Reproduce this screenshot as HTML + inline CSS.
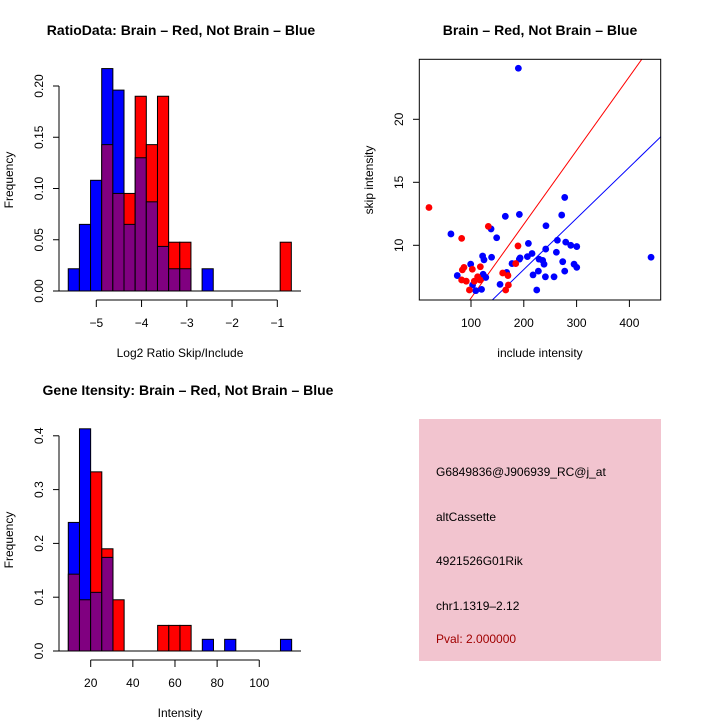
<!DOCTYPE html>
<html><head><meta charset="utf-8"><style>
html,body{margin:0;padding:0;background:#fff}
svg{display:block}
text{font-family:"Liberation Sans",sans-serif;fill:#000}
</style></head><body>
<svg id="chart" width="720" height="720" viewBox="0 0 720 720" xmlns="http://www.w3.org/2000/svg">
<text x="181" y="35" text-anchor="middle" font-size="14" font-weight="bold">RatioData: Brain – Red, Not Brain – Blue</text>
<text x="540" y="35" text-anchor="middle" font-size="14" font-weight="bold">Brain – Red, Not Brain – Blue</text>
<text x="188" y="395" text-anchor="middle" font-size="14" font-weight="bold">Gene Itensity: Brain – Red, Not Brain – Blue</text>
<text x="180" y="357" text-anchor="middle" font-size="12">Log2 Ratio Skip/Include</text>
<text transform="translate(13,180) rotate(-90)" text-anchor="middle" font-size="12">Frequency</text>
<text x="540" y="357" text-anchor="middle" font-size="12">include intensity</text>
<text transform="translate(373,180) rotate(-90)" text-anchor="middle" font-size="12">skip intensity</text>
<text x="180" y="717" text-anchor="middle" font-size="12">Intensity</text>
<text transform="translate(13,540) rotate(-90)" text-anchor="middle" font-size="12">Frequency</text>
<g>
<rect x="419" y="419" width="242" height="242" fill="#f2c4cf"/>
<text x="436" y="476" font-size="12">G6849836@J906939_RC@j_at</text>
<text x="436" y="521" font-size="12">altCassette</text>
<text x="436" y="565" font-size="12">4921526G01Rik</text>
<text x="436" y="610" font-size="12">chr1.1319–2.12</text>
<text x="436" y="643" font-size="12" style="fill:#a00000">Pval: 2.000000</text>
</g>
</svg>
<script>
// Ratio histogram data
const ratioBinStart = -5.62;
const ratioBinWidth = 0.2465;
const ratioBlue = [0.0217,0.065,0.108,0.217,0.196,0.065,0.13,0.087,0.0435,0.0217,0.0217,0,0.0217,0,0,0,0,0,0,0];
const ratioRed  = [0,0,0,0.1428,0.0952,0.0952,0.19,0.1428,0.19,0.0476,0.0476,0,0,0,0,0,0,0,0,0.0476];
const ratioYTicks = [0,0.05,0.10,0.15,0.20];
const ratioYLabels = ["0.00","0.05","0.10","0.15","0.20"];
const ratioXTicks = [-5,-4,-3,-2,-1];
const ratioXLabels = ["\u22125","\u22124","\u22123","\u22122","\u22121"];
// Intensity histogram data
const intBinStart = 9.37;
const intBinWidth = 5.3;
const intBlue = [0.239,0.413,0.109,0.174,0,0,0,0,0,0,0,0,0.0217,0,0.0217,0,0,0,0,0.0217];
const intRed  = [0.1428,0.0952,0.333,0.19,0.0952,0,0,0,0.0476,0.0476,0.0476,0,0,0,0,0,0,0,0,0];
const intYTicks = [0,0.1,0.2,0.3,0.4];
const intYLabels = ["0.0","0.1","0.2","0.3","0.4"];
const intXTicks = [20,40,60,80,100];
const intXLabels = ["20","40","60","80","100"];
// Scatter data
const blueX = [189.7,62,74,99.4,103,109,120,122,124.6,123,128,138,139,148.6,155,165,167.6,177.7,191.6,191.6,193,206.8,208.7,215.6,217.5,224.5,227.6,228.9,235.8,238.3,241.5,242,240.9,257.3,261.7,263.6,271.8,273.7,277.5,277.5,279.4,288.9,295.2,300.3,300.3,441];
const blueY = [24.05,10.9,7.6,8.5,6.85,6.4,6.5,9.15,8.85,7.7,7.45,11.3,9.05,10.6,6.9,12.3,7.85,8.55,12.45,8.9,9.0,9.1,10.15,9.35,7.65,6.45,7.95,8.9,8.8,8.5,9.7,11.55,7.5,7.5,9.45,10.4,12.4,8.7,13.8,7.95,10.25,10.0,8.5,9.9,8.25,9.05];
const redX = [20.4,82.3,83.6,86.7,82.3,91,97,102.5,106.3,112.6,117,117.7,132.8,160,165.7,170,170.8,184.7,189];
const redY = [13.0,10.55,8.05,8.25,7.25,7.15,6.45,8.1,7.15,7.5,7.25,8.3,11.5,7.8,6.45,7.6,6.85,8.55,9.95];
const redSlope = 0.0586, redIntercept = -0.05;
const blueSlope = 0.0406, blueIntercept = -0.04;
const scXTicks = [100,200,300,400];
const scXLabels = ["100","200","300","400"];
const scYTicks = [10,15,20];
const scYLabels = ["10","15","20"];

const svg = document.getElementById('chart');
const NS = 'http://www.w3.org/2000/svg';
function mk(tag, attrs, parent){
  const e = document.createElementNS(NS, tag);
  for (const k in attrs) e.setAttribute(k, attrs[k]);
  (parent||svg).appendChild(e);
  return e;
}
function txt(x,y,s,anchor,rot,parent){
  const t = mk('text',{x:x,y:y,'font-size':12,'text-anchor':anchor||'middle'},parent);
  if (rot) t.setAttribute('transform','rotate(-90 '+x+' '+y+')');
  t.textContent = s;
  return t;
}

function histogram(name, top, binStart, binW, blue, red, yt, yl, xt, xl, xScale, yScale){
  const g = mk('g',{});
  
  
  const y0 = yScale(0);
  for (let i=0;i<blue.length;i++){
    const x1 = xScale(binStart + i*binW), x2 = xScale(binStart + (i+1)*binW);
    const b = blue[i], r = red[i];
    const mx = Math.max(b,r), mn = Math.min(b,r);
    if (mx>0){
      const rc = mk('rect',{x:x1,y:yScale(mx),width:x2-x1,height:y0-yScale(mx),fill:b>=r?'#0000ff':'#ff0000',stroke:'#000','stroke-width':1},g);
      
      
    }
    if (mn>0){
      const pc = mk('rect',{x:x1,y:yScale(mn),width:x2-x1,height:y0-yScale(mn),fill:'#800080',stroke:'#000','stroke-width':1},g);
      
      
    }
  }
  // baseline
  mk('line',{x1:59,y1:y0,x2:301,y2:y0,stroke:'#000','stroke-width':1},g);
  // y axis
  const ya = mk('g',{},g);
  
  
  mk('line',{x1:59,y1:yScale(yt[0]),x2:59,y2:yScale(yt[yt.length-1]),stroke:'#000'},ya);
  yt.forEach((v,i)=>{
    mk('line',{x1:53,y1:yScale(v),x2:59,y2:yScale(v),stroke:'#000'},ya);
    txt(43,yScale(v),yl[i],'middle',true,ya);
  });
  // x axis
  const xa = mk('g',{},g);
  
  
  const ax = y0+9;
  mk('line',{x1:xScale(xt[0]),y1:ax,x2:xScale(xt[xt.length-1]),y2:ax,stroke:'#000'},xa);
  xt.forEach((v,i)=>{
    mk('line',{x1:xScale(v),y1:ax,x2:xScale(v),y2:ax+7,stroke:'#000'},xa);
    txt(xScale(v),ax+27,xl[i],'middle',false,xa);
  });
}

// ratio histogram scales
const rX = v => 96.3 + (v+5)*45.25;
const rY = v => 291 - v*1025;
histogram('ratio-histogram',0,ratioBinStart,ratioBinWidth,ratioBlue,ratioRed,ratioYTicks,ratioYLabels,ratioXTicks,ratioXLabels,rX,rY);

const iX = v => 90.7 + (v-20)*2.107;
const iY = v => 651 - v*538;
histogram('intensity-histogram',0,intBinStart,intBinWidth,intBlue,intRed,intYTicks,intYLabels,intXTicks,intXLabels,iX,iY);

// scatter
const sX = v => 471 + (v-100)*0.528;
const sY = v => 245.3 - (v-10)*12.6;
const sg = mk('g',{});


const defs = mk('defs',{},sg);
const cp = mk('clipPath',{id:'scclip'},defs);
mk('rect',{x:419.3,y:59.3,width:241.4,height:240.7},cp);
const lines = mk('g',{'clip-path':'url(#scclip)'},sg);
const xmin = 0, xmax = 470;
const rl = mk('line',{x1:sX(xmin),y1:sY(redSlope*xmin+redIntercept),x2:sX(xmax),y2:sY(redSlope*xmax+redIntercept),stroke:'#ff0000','stroke-width':1},lines);


const bl = mk('line',{x1:sX(xmin),y1:sY(blueSlope*xmin+blueIntercept),x2:sX(xmax),y2:sY(blueSlope*xmax+blueIntercept),stroke:'#0000ff','stroke-width':1},lines);


blueX.forEach((x,i)=>{
  const c = mk('circle',{cx:sX(x),cy:sY(blueY[i]),r:3.4,fill:'#0000ff'},sg);
  
  
});
redX.forEach((x,i)=>{
  const c = mk('circle',{cx:sX(x),cy:sY(redY[i]),r:3.4,fill:'#ff0000'},sg);
  
  
});
const box = mk('rect',{x:419.3,y:59.3,width:241.4,height:240.7,fill:'none',stroke:'#000'},sg);


const sxa = mk('g',{},sg);


scXTicks.forEach((v,i)=>{
  mk('line',{x1:sX(v),y1:300,x2:sX(v),y2:307,stroke:'#000'},sxa);
  txt(sX(v),327,scXLabels[i],'middle',false,sxa);
});
const sya = mk('g',{},sg);


scYTicks.forEach((v,i)=>{
  mk('line',{x1:413,y1:sY(v),x2:419.3,y2:sY(v),stroke:'#000'},sya);
  txt(403,sY(v),scYLabels[i],'middle',true,sya);
});
</script>
</body></html>
